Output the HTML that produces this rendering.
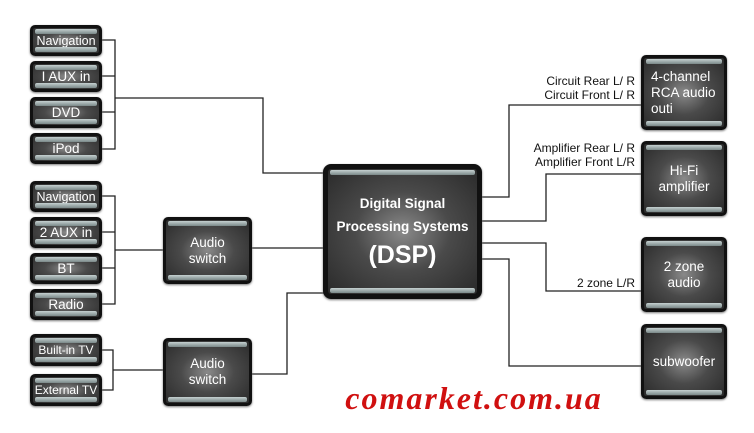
<!DOCTYPE html>
<html><head><meta charset="utf-8"><style>
html,body{margin:0;padding:0;background:#fff;}
body{width:754px;height:433px;position:relative;overflow:hidden;font-family:"Liberation Sans",Arial,sans-serif;}
.b{position:absolute;box-sizing:border-box;border:3px solid #111;border-radius:5px;
background:radial-gradient(ellipse at 50% 50%,#8a8a8a 0%,#4a4a4a 45%,#2a2a2a 100%);
color:#fff;display:flex;align-items:center;justify-content:center;text-align:center;font-size:13.5px;line-height:16px;box-shadow:0 1px 2px #777;white-space:nowrap;}
.b::before,.b::after{content:"";position:absolute;left:2px;right:2px;height:5px;border-radius:2px;
background:linear-gradient(#c4d0d0,#7a8888);}
.b::before{top:1px;}
.b::after{bottom:1px;}
.s{position:absolute;font-size:12px;color:#111;text-align:right;line-height:13.5px;}
</style></head><body>
<svg width="754" height="433" style="position:absolute;left:0;top:0" fill="none" stroke="#222" stroke-width="1.3">
<path d="M101 40H115V149H101M101 76H115M101 112H115M115 98H263V173H325"/>
<path d="M101 196H115V304H101M101 232H115M101 268H115M115 250H164M252 248H325"/>
<path d="M101 350H113V390H101M113 370H164M252 374H287V293H325"/>
<path d="M481 197H509V105H642M481 221H546V174H642M481 243H546V291H642M481 259H509V366H642"/>
</svg>
<div class="b" style="left:30px;top:25px;width:72px;height:31px;font-size:12.5px">Navigation</div>
<div class="b" style="left:30px;top:61px;width:72px;height:31px">I AUX in</div>
<div class="b" style="left:30px;top:97px;width:72px;height:31px">DVD</div>
<div class="b" style="left:30px;top:133px;width:72px;height:31px">iPod</div>
<div class="b" style="left:30px;top:181px;width:72px;height:31px;font-size:12.5px">Navigation</div>
<div class="b" style="left:30px;top:217px;width:72px;height:31px">2 AUX in</div>
<div class="b" style="left:30px;top:253px;width:72px;height:31px">BT</div>
<div class="b" style="left:30px;top:289px;width:72px;height:31px">Radio</div>
<div class="b" style="left:30px;top:334px;width:72px;height:32px;font-size:12px">Built-in TV</div>
<div class="b" style="left:30px;top:374px;width:72px;height:32px;font-size:12px">External TV</div>
<div class="b" style="left:163px;top:217px;width:89px;height:67px">Audio<br>switch</div>
<div class="b" style="left:163px;top:338px;width:89px;height:68px">Audio<br>switch</div>
<div class="b" style="left:323px;top:164px;width:159px;height:135px;border-width:5px;border-radius:8px;font-weight:bold;font-size:13.5px;line-height:23px;font-family:'Liberation Sans',sans-serif;">
<div>Digital Signal<br>Processing Systems<br><span style="font-size:25px;line-height:34px">(DSP)</span></div></div>
<div class="b" style="left:641px;top:55px;width:86px;height:75px;justify-content:flex-start;text-align:left;padding-left:7px;font-size:13.5px">4-channel<br>RCA audio<br>outi</div>
<div class="b" style="left:641px;top:141px;width:86px;height:75px;font-size:13.5px">Hi-Fi<br>amplifier</div>
<div class="b" style="left:641px;top:237px;width:86px;height:75px;font-size:13.5px">2 zone<br>audio</div>
<div class="b" style="left:641px;top:324px;width:86px;height:75px;font-size:13.5px">subwoofer</div>
<div class="s" style="right:119px;top:75px">Circuit Rear L/ R<br>Circuit Front L/ R</div>
<div class="s" style="right:119px;top:142px">Amplifier Rear L/ R<br>Amplifier Front L/R</div>
<div class="s" style="right:119px;top:277px">2 zone L/R</div>
<div style="position:absolute;left:314px;top:382px;width:320px;text-align:center;color:#d01010;font:italic bold 32px 'Liberation Serif',serif;line-height:32px;letter-spacing:2px;">comarket.com.ua</div>
</body></html>
